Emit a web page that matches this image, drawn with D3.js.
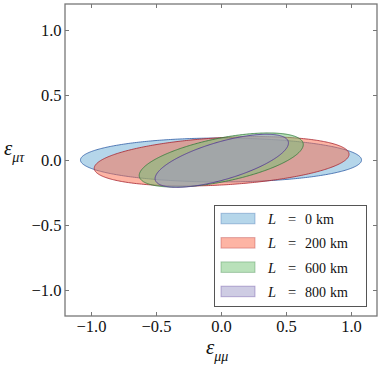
<!DOCTYPE html>
<html>
<head>
<meta charset="utf-8">
<script src="https://cdn.jsdelivr.net/npm/d3@7"></script>
<style>
  html, body { margin: 0; padding: 0; background: #fff; }
  svg { display: block; }
  text { font-family: "Liberation Serif", "DejaVu Serif", serif; fill: #111; }
</style>
</head>
<body>
<svg id="chart" width="382" height="371"></svg>
<script>
// ---- data ----
const baselines = ["0", "200", "600", "800"];            // L in km
const centerX   = [0.000, 0.005, 0.002, 0.006];
const centerY   = [0.000, -0.010, 0.000, -0.006];
const halfWidth = [1.081, 0.980, 0.631, 0.513];          // horizontal half-extent
const halfHeight= [0.169, 0.190, 0.208, 0.204];          // vertical half-extent
const rightEndY = [0.000, 0.054, 0.119, 0.137];          // y offset at right-most point (tilt)
const fillColors = ["#6baed6", "#fb6a4a", "#74c476", "#9e9ac8"];
const edgeColors = ["#2f5ea6", "#a8242f", "#2f7a3a", "#4f2f96"];
const xTicks = [-1.0, -0.5, 0.0, 0.5, 1.0];
const yTicks = [-1.0, -0.5, 0.0, 0.5, 1.0];

// ---- layout ----
const svg = d3.select("#chart");
const plot = { left: 65, right: 377, top: 4, bottom: 316 };
const x = d3.scaleLinear().domain([-1.2, 1.2]).range([plot.left, plot.right]);
const y = d3.scaleLinear().domain([-1.2, 1.2]).range([plot.bottom, plot.top]);

// ---- ellipses ----
const angles = d3.range(0, 360, 1).map(d => d * Math.PI / 180);
const line = d3.line().x(d => x(d[0])).y(d => y(d[1])).curve(d3.curveLinearClosed);
const gE = svg.append("g");
baselines.forEach((b, i) => {
  const X = halfWidth[i], Y = halfHeight[i], k = rightEndY[i];
  const c = Math.sqrt(Math.max(Y * Y - k * k, 0));
  const pts = angles.map(t => [centerX[i] + X * Math.cos(t), centerY[i] + k * Math.cos(t) + c * Math.sin(t)]);
  gE.append("path")
    .attr("d", line(pts))
    .attr("fill", fillColors[i])
    .attr("fill-opacity", 0.5)
    .attr("stroke", edgeColors[i])
    .attr("stroke-opacity", 0.8)
    .attr("stroke-width", 1);
});

// ---- axes ----
const fmt = d3.format(".1f");
const axisColor = "#777";
function styleAxis(g) {
  g.select(".domain").remove();
  g.selectAll(".tick line").attr("stroke", axisColor).attr("stroke-width", 1);
  g.selectAll(".tick text").style("font-size", "16.5px").attr("fill", "#111");
}
svg.append("g").attr("transform", `translate(0,${plot.bottom})`)
  .call(d3.axisBottom(x).tickValues(xTicks).tickFormat(fmt).tickSizeInner(-4).tickSizeOuter(0).tickPadding(4))
  .call(styleAxis);
svg.append("g").attr("transform", `translate(${plot.left},0)`)
  .call(d3.axisLeft(y).tickValues(yTicks).tickFormat(fmt).tickSizeInner(-4).tickSizeOuter(0).tickPadding(3.5))
  .call(styleAxis);
svg.append("g").attr("transform", `translate(0,${plot.top})`)
  .call(d3.axisTop(x).tickValues(xTicks).tickFormat("").tickSizeInner(-4).tickSizeOuter(0))
  .call(styleAxis);
svg.append("g").attr("transform", `translate(${plot.right},0)`)
  .call(d3.axisRight(y).tickValues(yTicks).tickFormat("").tickSizeInner(-4).tickSizeOuter(0))
  .call(styleAxis);

svg.append("rect")
  .attr("x", plot.left).attr("y", plot.top)
  .attr("width", plot.right - plot.left).attr("height", plot.bottom - plot.top)
  .attr("fill", "none").attr("stroke", axisColor).attr("stroke-width", 1.3);

// ---- axis labels ----
const xl = svg.append("text").attr("x", 206).attr("y", 354);
xl.append("tspan").attr("font-style", "italic").style("font-size", "21px").text("ε");
xl.append("tspan").attr("font-style", "italic").style("font-size", "14px").attr("dy", 7).text("μμ");

const yl = svg.append("text").attr("x", 4).attr("y", 155);
yl.append("tspan").attr("font-style", "italic").style("font-size", "21px").text("ε");
yl.append("tspan").attr("font-style", "italic").style("font-size", "14px").attr("dy", 7).text("μτ");

// ---- legend ----
const lg = svg.append("g");
lg.append("rect").attr("x", 214.5).attr("y", 205.5).attr("width", 152).attr("height", 101)
  .attr("fill", "#fff").attr("stroke", "#555").attr("stroke-width", 1);
baselines.forEach((b, i) => {
  const cy = 218.5 + i * 24.3;
  lg.append("rect").attr("x", 221).attr("y", cy - 5.2).attr("width", 34).attr("height", 10.5)
    .attr("fill", fillColors[i]).attr("fill-opacity", 0.5)
    .attr("stroke", edgeColors[i]).attr("stroke-opacity", 0.35).attr("stroke-width", 1);
  const base = cy + 5.5;
  lg.append("text").attr("x", 268).attr("y", base).attr("font-style", "italic").style("font-size", "14.5px").text("L");
  lg.append("text").attr("x", 288).attr("y", base).style("font-size", "14.5px").text("=");
  const t = lg.append("text").attr("x", 305).attr("y", base).style("font-size", "14px");
  t.append("tspan").text(b);
  t.append("tspan").attr("dx", 4).text("km");
});
</script>
</body>
</html>
